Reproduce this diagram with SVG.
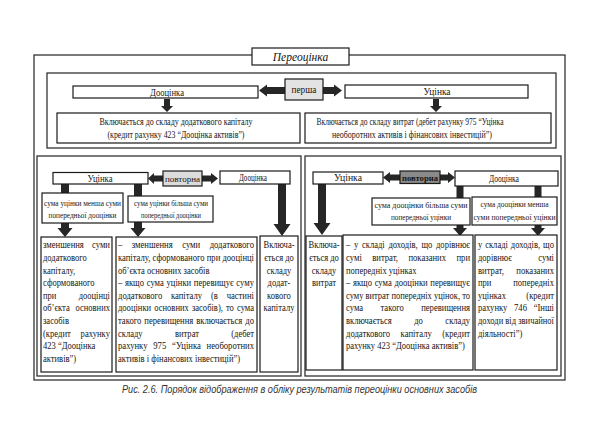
<svg xmlns="http://www.w3.org/2000/svg" width="600" height="422" viewBox="0 0 600 422">
<style>
.frame{fill:none;stroke:#222;stroke-width:1.2}
.box{fill:#fff;stroke:#1a1a1a;stroke-width:1.2}
.arr{fill:#262626}
text{font-family:"Liberation Serif","Times New Roman",serif;fill:#161616}
.t{font-size:9.5px}
.s{font-size:9px}
.c{text-anchor:middle}
</style>
<rect x="0" y="0" width="600" height="422" fill="#fff"/>
<g id="frames">
<rect class="frame" x="34" y="55" width="531" height="325"/>
<rect class="frame" x="47" y="73" width="509" height="75"/>
<rect class="frame" x="37" y="156" width="264" height="220"/>
<rect class="frame" x="305" y="156" width="256" height="220"/>
</g>
<g id="connectors">
<path class="arr" d="M285,87 L267,87 L267,84.5 L259,90.5 L267,96.5 L267,94 L285,94 Z"/>
<path class="arr" d="M323,87 L334,87 L334,84.5 L342,90.5 L334,96.5 L334,94 L323,94 Z"/>
<path class="arr" d="M164,99 L170,99 L170,106 L173,106 L167,112 L161,106 L164,106 Z"/>
<path class="arr" d="M433,99 L439,99 L439,106 L442,106 L436,112 L430,106 L433,106 Z"/>
<path class="arr" d="M61,184 L69,184 L69,228 L72.5,228 L65,237 L57.5,228 L61,228 Z"/>
<path class="arr" d="M134,184 L142,184 L142,228 L145.5,228 L138,237 L130.5,228 L134,228 Z"/>
<path class="arr" d="M278,184 L286,184 L286,224 L290.5,224 L282,236 L273.5,224 L278,224 Z"/>
<path class="arr" d="M163,175.5 L154,175.5 L154,173 L148,178.5 L154,184 L154,181.5 L163,181.5 Z"/>
<path class="arr" d="M202,175.5 L211,175.5 L211,173 L218,178.5 L211,184 L211,181.5 L202,181.5 Z"/>
<path class="arr" d="M318,184 L326,184 L326,223 L330.5,223 L322,235 L313.5,223 L318,223 Z"/>
<path class="arr" d="M456.5,186 L463.5,186 L463.5,228 L467,228 L460,236 L453,228 L456.5,228 Z"/>
<path class="arr" d="M534.5,186 L541.5,186 L541.5,228 L545,228 L538,236 L531,228 L534.5,228 Z"/>
<path class="arr" d="M400,174.5 L390,174.5 L390,172 L383,177.5 L390,183 L390,180.5 L400,180.5 Z"/>
<path class="arr" d="M440,174.5 L448,174.5 L448,172 L455,177.5 L448,183 L448,180.5 L440,180.5 Z"/>
</g>
<g id="title">
<rect class="box" x="252" y="48" width="97" height="17"/>
<text x="300.5" y="60.5" class="c" font-size="11.5" font-style="italic">Переоцінка</text>
</g>
<g id="top-dootsinka">
<rect class="box" x="73" y="86" width="185" height="12"/>
<text x="167" y="95.5" class="c" font-size="10" textLength="34" lengthAdjust="spacingAndGlyphs">Дооцінка</text>
</g>
<g id="top-persha">
<rect class="box" x="285" y="79" width="38" height="21" style="fill:#e3e3e3"/>
<text x="304" y="92.5" class="c" font-size="9.5" textLength="25" lengthAdjust="spacingAndGlyphs">перша</text>
</g>
<g id="top-utsinka">
<rect class="box" x="345" y="85" width="183" height="13"/>
<text x="437" y="95" class="c" font-size="10" textLength="27" lengthAdjust="spacingAndGlyphs">Уцінка</text>
</g>
<g id="top-capital">
<rect class="box" x="57" y="113" width="243" height="30"/>
<text x="176" y="125" class="c t" textLength="153" lengthAdjust="spacingAndGlyphs">Включається до складу додаткового капіталу</text>
<text x="176" y="138" class="c t" textLength="137" lengthAdjust="spacingAndGlyphs">(кредит рахунку 423 “Дооцінка активів”)</text>
</g>
<g id="top-expenses">
<rect class="box" x="305" y="113" width="246" height="30"/>
<text x="410" y="125" class="c t" textLength="187" lengthAdjust="spacingAndGlyphs">Включається до складу витрат (дебет рахунку 975 “Уцінка</text>
<text x="412" y="138" class="c t" textLength="160" lengthAdjust="spacingAndGlyphs">необоротних активів і фінансових інвестицій”)</text>
</g>
<g id="ll-utsinka">
<rect class="box" x="53" y="172.5" width="95" height="11.5"/>
<text x="100" y="181.5" class="c t" textLength="25" lengthAdjust="spacingAndGlyphs">Уцінка</text>
</g>
<g id="ll-povtorna">
<rect class="box" x="163" y="171" width="39" height="15" style="fill:#dcdcdc"/>
<text x="182.5" y="181.5" class="c s" textLength="35" lengthAdjust="spacingAndGlyphs">повторна</text>
</g>
<g id="ll-dootsinka">
<rect class="box" x="220" y="171" width="70" height="13"/>
<text x="253" y="180.5" class="c t" textLength="28" lengthAdjust="spacingAndGlyphs">Дооцінка</text>
</g>
<g id="ll-label1">
<rect class="box" x="42" y="193" width="81" height="30"/>
<text x="82.5" y="206" class="c s" textLength="77" lengthAdjust="spacingAndGlyphs">сума уцінки менша суми</text>
<text x="82.5" y="218" class="c s" textLength="68" lengthAdjust="spacingAndGlyphs">попередньої дооцінки</text>
</g>
<g id="ll-label2">
<rect class="box" x="128" y="196" width="85" height="26"/>
<text x="171" y="206" class="c s" textLength="74" lengthAdjust="spacingAndGlyphs">сума уцінки більша суми</text>
<text x="171" y="217.5" class="c s" textLength="60" lengthAdjust="spacingAndGlyphs">попередньої дооцінки</text>
</g>
<g id="ll-box1">
<rect class="box" x="41" y="237" width="71" height="135"/>
<g transform="translate(43,0) scale(0.9,1)" class="t">
<text x="0" y="248.5" textLength="74.4" lengthAdjust="spacingAndGlyphs" word-spacing="6.6">зменшення суми</text>
<text x="0" y="261.1">додаткового</text>
<text x="0" y="273.7">капіталу,</text>
<text x="0" y="286.3">сформованого</text>
<text x="0" y="298.9" textLength="74.4" lengthAdjust="spacingAndGlyphs" word-spacing="22.4">при дооцінці</text>
<text x="0" y="311.5" textLength="74.4" lengthAdjust="spacingAndGlyphs" word-spacing="4">об’єкта основних</text>
<text x="0" y="324.1">засобів</text>
<text x="0" y="336.7" textLength="74.4" lengthAdjust="spacingAndGlyphs" word-spacing="8.5">(кредит рахунку</text>
<text x="0" y="349.3">423 “Дооцінка</text>
<text x="0" y="361.9">активів”)</text>
</g>
</g>
<g id="ll-box2">
<rect class="box" x="116" y="237" width="141" height="135"/>
<g transform="translate(118,0) scale(0.9,1)" class="t">
<text x="0" y="248.5" textLength="151.1" lengthAdjust="spacingAndGlyphs" word-spacing="8">– зменшення суми додаткового</text>
<text x="0" y="261.1" textLength="151.1" lengthAdjust="spacingAndGlyphs">капіталу, сформованого при дооцінці</text>
<text x="0" y="273.7">об’єкта основних засобів</text>
<text x="0" y="286.3" textLength="151.1" lengthAdjust="spacingAndGlyphs" word-spacing="0.6">– якщо сума уцінки перевищує суму</text>
<text x="0" y="298.9" textLength="151.1" lengthAdjust="spacingAndGlyphs" word-spacing="7.3">додаткового капіталу (в частині</text>
<text x="0" y="311.5" textLength="151.1" lengthAdjust="spacingAndGlyphs" word-spacing="1.1">дооцінки основних засобів), то сума</text>
<text x="0" y="324.1" textLength="151.1" lengthAdjust="spacingAndGlyphs" word-spacing="0.9">такого перевищення включається до</text>
<text x="0" y="336.7" textLength="151.1" lengthAdjust="spacingAndGlyphs" word-spacing="33.6">складу витрат (дебет</text>
<text x="0" y="349.3" textLength="151.1" lengthAdjust="spacingAndGlyphs" word-spacing="4">рахунку 975 “Уцінка необоротних</text>
<text x="0" y="361.9">активів і фінансових інвестицій”)</text>
</g>
</g>
<g id="ll-box3">
<rect class="box" x="260" y="236" width="38" height="136"/>
<g transform="translate(279,0) scale(0.9,1)" class="t c">
<text x="0" y="248.5">Включа-</text>
<text x="0" y="261.1">ється до</text>
<text x="0" y="273.7">складу</text>
<text x="0" y="286.3">додат-</text>
<text x="0" y="298.9">кового</text>
<text x="0" y="311.5">капіталу</text>
</g>
</g>
<g id="lr-utsinka">
<rect class="box" x="313" y="172" width="70" height="12"/>
<text x="348" y="181" class="c t" textLength="28" lengthAdjust="spacingAndGlyphs">Уцінка</text>
</g>
<g id="lr-povtorna">
<rect class="box" x="400" y="171" width="40" height="12.5" style="fill:#8a8a8a"/>
<text x="420" y="180.5" class="c s" font-weight="bold" textLength="36" lengthAdjust="spacingAndGlyphs">повторна</text>
</g>
<g id="lr-dootsinka">
<rect class="box" x="455" y="171" width="103" height="15"/>
<text x="504" y="181.5" class="c t" textLength="30" lengthAdjust="spacingAndGlyphs">Дооцінка</text>
</g>
<g id="lr-label1">
<rect class="box" x="372" y="198" width="98" height="27"/>
<text x="421" y="208" class="c s" textLength="93" lengthAdjust="spacingAndGlyphs">сума дооцінки більша суми</text>
<text x="421" y="220" class="c s" textLength="60" lengthAdjust="spacingAndGlyphs">попередньої уцінки</text>
</g>
<g id="lr-label2">
<rect class="box" x="472" y="197" width="85" height="28"/>
<text x="514.5" y="207" class="c s" textLength="68" lengthAdjust="spacingAndGlyphs">сума дооцінки менша</text>
<text x="514.5" y="219.5" class="c s" textLength="82" lengthAdjust="spacingAndGlyphs">суми попередньої уцінки</text>
</g>
<g id="lr-box1">
<rect class="box" x="306" y="236" width="36" height="134"/>
<g transform="translate(324,0) scale(0.9,1)" class="t c">
<text x="0" y="248.5">Включа-</text>
<text x="0" y="261.1">ється до</text>
<text x="0" y="273.7">складу</text>
<text x="0" y="286.3">витрат</text>
</g>
</g>
<g id="lr-box2">
<rect class="box" x="343" y="235" width="130" height="135"/>
<g transform="translate(346,0) scale(0.9,1)" class="t">
<text x="0" y="248.5" textLength="137.8" lengthAdjust="spacingAndGlyphs" word-spacing="1.7">– у складі доходів, що дорівнює</text>
<text x="0" y="261.1" textLength="137.8" lengthAdjust="spacingAndGlyphs" word-spacing="9.1">сумі витрат, показаних при</text>
<text x="0" y="273.7">попередніх уцінках</text>
<text x="0" y="286.3" textLength="137.8" lengthAdjust="spacingAndGlyphs" word-spacing="0.6">– якщо сума дооцінки перевищує</text>
<text x="0" y="298.9" textLength="137.8" lengthAdjust="spacingAndGlyphs">суму витрат попередніх уцінок, то</text>
<text x="0" y="311.5" textLength="137.8" lengthAdjust="spacingAndGlyphs" word-spacing="16.7">сума такого перевищення</text>
<text x="0" y="324.1" textLength="137.8" lengthAdjust="spacingAndGlyphs" word-spacing="22.6">включається до складу</text>
<text x="0" y="336.7" textLength="137.8" lengthAdjust="spacingAndGlyphs" word-spacing="9.2">додаткового капіталу (кредит</text>
<text x="0" y="349.3">рахунку 423 “Дооцінка активів”)</text>
</g>
</g>
<g id="lr-box3">
<rect class="box" x="475" y="235" width="82" height="135"/>
<g transform="translate(478,0) scale(0.9,1)" class="t">
<text x="0" y="248.5" textLength="84.4" lengthAdjust="spacingAndGlyphs" word-spacing="0.8">у складі доходів, що</text>
<text x="0" y="261.1" textLength="84.4" lengthAdjust="spacingAndGlyphs" word-spacing="27">дорівнює сумі</text>
<text x="0" y="273.7" textLength="84.4" lengthAdjust="spacingAndGlyphs" word-spacing="11.3">витрат, показаних</text>
<text x="0" y="286.3" textLength="84.4" lengthAdjust="spacingAndGlyphs" word-spacing="21.9">при попередніх</text>
<text x="0" y="298.9" textLength="84.4" lengthAdjust="spacingAndGlyphs" word-spacing="20.2">уцінках (кредит</text>
<text x="0" y="311.5" textLength="84.4" lengthAdjust="spacingAndGlyphs" word-spacing="5">рахунку 746 “Інші</text>
<text x="0" y="324.1" textLength="84.4" lengthAdjust="spacingAndGlyphs">доходи від звичайної</text>
<text x="0" y="336.7">діяльності”)</text>
</g>
</g>
<g id="caption">
<text x="122" y="393" font-family="'Liberation Sans',Arial,sans-serif" font-size="10" font-style="italic" style="font-family:'Liberation Sans',Arial,sans-serif;fill:#333" textLength="355" lengthAdjust="spacingAndGlyphs">Рис. 2.6. Порядок відображення в обліку результатів переоцінки основних засобів</text>
</g>
</svg>
